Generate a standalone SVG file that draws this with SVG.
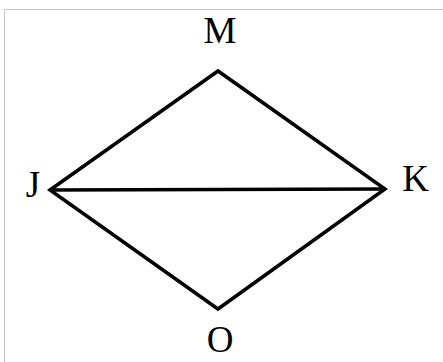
<svg xmlns="http://www.w3.org/2000/svg" width="443" height="362" viewBox="0 0 443 362">
<style>
.lbl{font-family:"Liberation Serif","Times New Roman",serif;font-size:37px;fill:#000;text-anchor:middle}
.edge{stroke:#000;stroke-width:3.5;fill:none;stroke-linejoin:miter;stroke-linecap:butt}
</style>
<rect x="0" y="0" width="443" height="362" fill="#fff"/>
<path d="M4.5 362 V9.5 H443" stroke="#c8c8c8" stroke-width="1" fill="none"/>
<g id="connectors">
<path class="edge" d="M50 190 L218 71 L385 189 L218 309 Z"/>
<line class="edge" x1="50" y1="190" x2="385" y2="189"/>
</g>
<g id="node-M"><text class="lbl" x="220" y="43">M</text></g>
<g id="node-J"><text class="lbl" x="33" y="197">J</text></g>
<g id="node-K"><text class="lbl" x="415.5" y="191">K</text></g>
<g id="node-O"><text class="lbl" x="220" y="352">O</text></g>
</svg>
